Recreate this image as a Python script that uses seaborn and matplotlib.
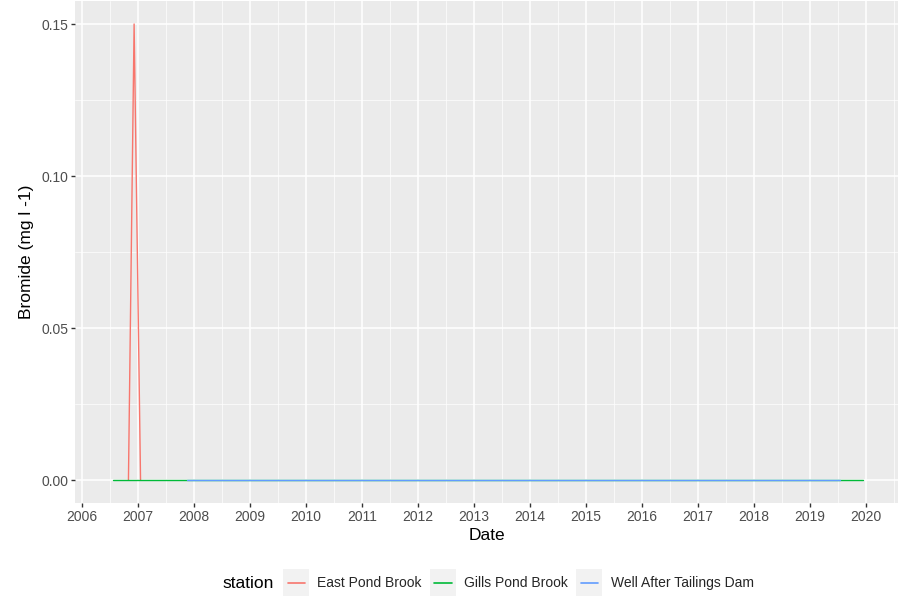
import seaborn as sns
import matplotlib.pyplot as plt
import matplotlib.dates as mdates
from matplotlib.legend_handler import HandlerLine2D
from matplotlib.patches import Rectangle
from matplotlib.lines import Line2D
from matplotlib.ticker import FixedLocator, FormatStrFormatter
import pandas as pd

# data
east_dates = ["2006-10-30", "2006-12-06", "2007-01-17"]
east_values = [0.0, 0.15, 0.0]
gills_dates = ["2006-07-22", "2007-11-16", "2019-07-21", "2019-12-12"]
gills_values = [0.0, 0.0, 0.0, 0.0]
well_dates = ["2007-11-16", "2019-07-21"]
well_values = [0.0, 0.0]
stations = ["East Pond Brook", "Gills Pond Brook", "Well After Tailings Dam"]
colors = ["#F8766D", "#00BA38", "#619CFF"]

df = pd.concat([
    pd.DataFrame({"date": east_dates, "value": east_values, "station": stations[0]}),
    pd.DataFrame({"date": gills_dates, "value": gills_values, "station": stations[1]}),
    pd.DataFrame({"date": well_dates, "value": well_values, "station": stations[2]}),
])
df["date"] = pd.to_datetime(df["date"])

sns.set_theme(style="darkgrid", rc={
    "axes.facecolor": "#EBEBEB",
    "grid.color": "white",
    "axes.edgecolor": "#EBEBEB",
})
plt.rcParams["font.family"] = ["Liberation Sans", "DejaVu Sans"]

fig = plt.figure(figsize=(9, 5.96), dpi=100)
ax = fig.add_axes([0.0833, 0.156, 0.9147, 0.842])

sns.lineplot(data=df, x="date", y="value", hue="station", hue_order=stations,
             palette=colors, linewidth=1.0, ax=ax, legend=False, estimator=None)

# limits with ggplot-style expansion
ax.set_xlim(mdates.datestr2num("2005-11-15"), mdates.datestr2num("2020-08-01"))
ax.set_ylim(-0.0075, 0.1575)

ax.xaxis.set_major_locator(mdates.YearLocator())
ax.xaxis.set_major_formatter(mdates.DateFormatter("%Y"))
ax.xaxis.set_minor_locator(mdates.MonthLocator(bymonth=7, bymonthday=2))
ax.yaxis.set_major_locator(FixedLocator([0, 0.05, 0.10, 0.15]))
ax.yaxis.set_major_formatter(FormatStrFormatter("%.2f"))
ax.yaxis.set_minor_locator(FixedLocator([0.025, 0.075, 0.125]))

ax.grid(which="major", color="white", linewidth=1.1)
ax.grid(which="minor", color="white", linewidth=0.5)
for s in ax.spines.values():
    s.set_visible(False)
ax.tick_params(axis="both", which="major", length=3, width=1, color="#333333",
               labelcolor="#4D4D4D", labelsize=10, pad=2, left=True, bottom=True)
ax.tick_params(axis="both", which="minor", length=0)

ax.set_xlabel("Date", fontsize=12.5, color="black", labelpad=3)
ax.set_ylabel("Bromide (mg l -1)", fontsize=12.5, color="black", labelpad=5)


# legend keys with grey background like ggplot
class BoxedLine(HandlerLine2D):
    def create_artists(self, legend, orig_handle, xdescent, ydescent, width, height, fontsize, trans):
        bg = Rectangle((-xdescent, -ydescent - 6), width, height + 12, facecolor="#F2F2F2",
                       edgecolor="none", transform=trans)
        ln = Line2D([-xdescent + 3, -xdescent + width - 3],
                    [height / 2 - ydescent] * 2, color=orig_handle.get_color(),
                    linewidth=1.2, transform=trans)
        return [bg, ln]


handles = [Line2D([], [], color=c) for c in colors]
fig.text(0.247, 0.021, "station", fontsize=12.5, color="black", va="center", ha="left")
fig.legend(handles, stations, ncol=3, loc="center left", bbox_to_anchor=(0.301, 0.021),
           frameon=False, fontsize=10, handlelength=1.85, handletextpad=0.6,
           columnspacing=0.6, handler_map={Line2D: BoxedLine()})

fig.savefig("out.png", dpi=100)
